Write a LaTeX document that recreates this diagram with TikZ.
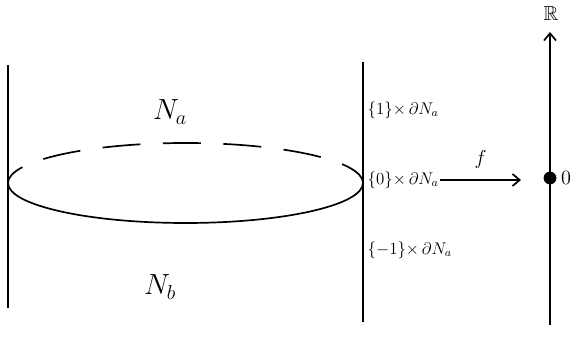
\documentclass[tikz,border=0pt]{standalone}
\usepackage{amsmath}
\usepackage{amssymb}
\usetikzlibrary{arrows.meta, positioning}

\begin{document}
\begin{tikzpicture}[
    x=0.025cm, y=-0.025cm,
    wall/.style={line width=1.2pt},
    slice/.style={anchor=west, inner sep=1pt, font=\large},
    region/.style={font=\huge, inner sep=1pt},
    >={Straight Barb[width=3mm, length=1.8mm]},
]
\useasboundingbox (0,0) rectangle (577,352);
% the two boundary walls
\coordinate (lt) at (8,65);
\coordinate (lb) at (8,308);
\coordinate (mt) at (363,62);
\coordinate (mb) at (363,322);
\draw[wall] (lt) -- (lb);
\draw[wall] (mt) -- (mb);
% the ellipse
\coordinate (ec) at (185.5,183);
\draw[wall, dash pattern=on 27pt off 16pt, dash phase=6pt] ([xshift=177.5*0.025cm]ec) arc[start angle=0, end angle=180, x radius=177.5*0.025cm, y radius=40*0.025cm];
\draw[wall] ([xshift=-177.5*0.025cm]ec) arc[start angle=180, end angle=360, x radius=177.5*0.025cm, y radius=40*0.025cm];
\node[region] (na) at (170,112) {$N_a$};
\node[region] (nb) at (160,287) {$N_b$};
% slices of the collar
\node[slice] (s1) at (366,110) {$\{1\}{\times}\,\partial N_a$};
\node[slice] (s0) at (366,180) {$\{0\}{\times}\,\partial N_a$};
\node[slice] (sm) at (366,250) {$\{-1\}{\times}\,\partial N_a$};
% the real line
\coordinate (rb) at (550,325);
\coordinate (rt) at (550,32);
\draw[wall, ->] (rb) -- (rt);
\node[font=\Large, inner sep=1pt] (rr) at (551,14) {$\mathbb{R}$};
\node[circle, fill, inner sep=0pt, minimum size=3.2mm] (zero) at (550,178) {};
\node[font=\Large, inner sep=1pt, right=2pt of zero] (zl) {$0$};
% the map
\coordinate (fa) at (440,180);
\coordinate (fb) at (521,180);
\draw[wall, ->] (fa) -- node[above=4pt, font=\Large] (fl) {$f$} (fb);
\end{tikzpicture}
\end{document}
